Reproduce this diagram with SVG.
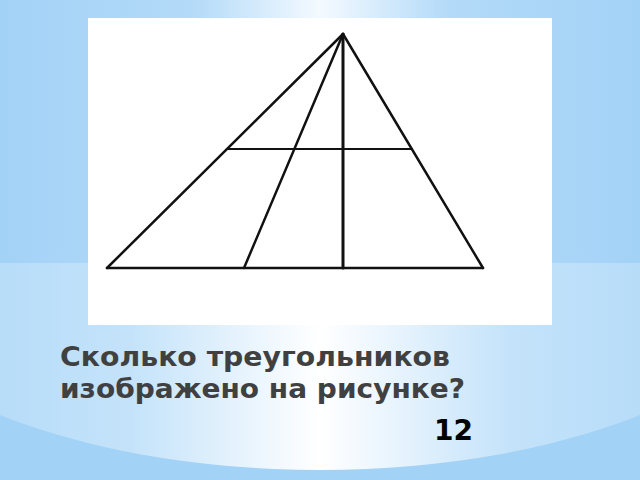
<svg xmlns="http://www.w3.org/2000/svg" width="640" height="480" viewBox="0 0 640 480">
<defs>
<linearGradient id="topg" x1="0" y1="0" x2="1" y2="0">
<stop offset="0" stop-color="#a3d2f7"/>
<stop offset="0.3" stop-color="#b3daf8"/>
<stop offset="0.5" stop-color="#f4faff"/>
<stop offset="0.7" stop-color="#b3daf8"/>
<stop offset="1" stop-color="#a3d2f7"/>
</linearGradient>
<linearGradient id="glow" x1="0" y1="0" x2="1" y2="0">
<stop offset="0" stop-color="#a9d5f7"/>
<stop offset="0.3" stop-color="#c4e3fa"/>
<stop offset="0.5" stop-color="#ffffff"/>
<stop offset="0.7" stop-color="#c4e3fa"/>
<stop offset="1" stop-color="#a9d5f7"/>
</linearGradient>
<clipPath id="lower"><rect x="0" y="263" width="640" height="217"/></clipPath>
<style>
.ln{stroke:#111;stroke-width:2.5;stroke-linecap:round;fill:none}
.q{font-family:"DejaVu Sans",sans-serif;font-weight:700;font-size:27px;fill:#404040}
.a{font-family:"DejaVu Sans",sans-serif;font-weight:700;font-size:29px;fill:#000}
</style>
</defs>
<rect x="0" y="0" width="640" height="480" fill="#a3d2f7"/>
<rect x="0" y="0" width="640" height="263" fill="url(#topg)"/>
<ellipse cx="320" cy="263" rx="471" ry="207" fill="url(#glow)" clip-path="url(#lower)"/>
<rect x="88" y="18" width="464" height="307" fill="#ffffff"/>
<g id="connectors">
<line class="ln" x1="343" y1="34" x2="107" y2="268"/>
<line class="ln" x1="343" y1="34" x2="483" y2="268"/>
<line class="ln" x1="107" y1="268" x2="483" y2="268"/>
<line class="ln" x1="343" y1="34" x2="244" y2="268"/>
<line class="ln" x1="343" y1="34" x2="343" y2="268" style="stroke-width:3"/>
<line class="ln" x1="227" y1="149" x2="412" y2="149" style="stroke-width:2"/>
</g>
<g id="question">
<text class="q" x="60" y="366" textLength="390" lengthAdjust="spacingAndGlyphs">Сколько треугольников</text>
<text class="q" x="60" y="398" textLength="405" lengthAdjust="spacingAndGlyphs">изображено на рисунке?</text>
</g>
<g id="answer">
<text class="a" x="434" y="440" textLength="39" lengthAdjust="spacingAndGlyphs">12</text>
</g>
</svg>
